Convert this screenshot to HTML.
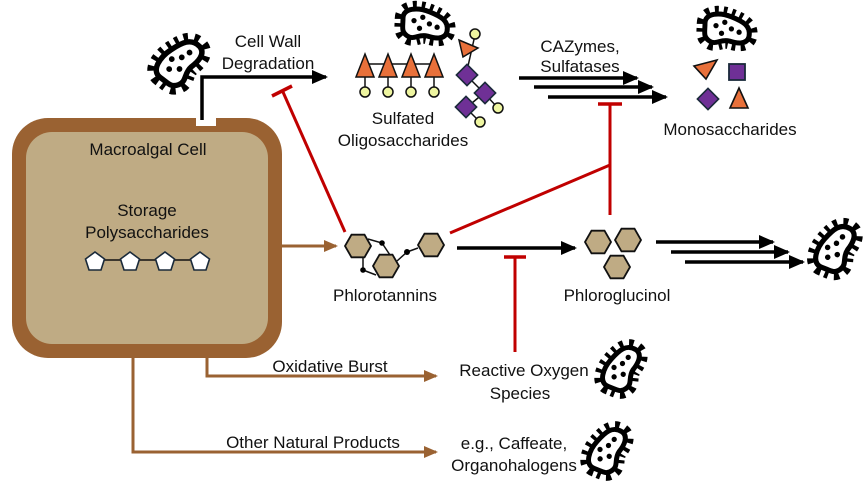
<!DOCTYPE html>
<html><head><meta charset="utf-8"><style>
body{margin:0;background:#fff}
svg{display:block}
text{font-family:"Liberation Sans",sans-serif;font-size:17px;fill:#111}
</style></head><body>
<svg width="865" height="489" viewBox="0 0 865 489" xmlns="http://www.w3.org/2000/svg">
<defs>
<marker id="abig" markerWidth="16" markerHeight="14" refX="14" refY="7" orient="auto" markerUnits="userSpaceOnUse"><path d="M0,0 L16,7 L0,14 Z" fill="#000"/></marker>
<marker id="abr" markerWidth="14" markerHeight="12" refX="12" refY="6" orient="auto" markerUnits="userSpaceOnUse"><path d="M0,0 L14,6 L0,12 Z" fill="#9a6232"/></marker>
<g id="bug">
<path d="M-20,-6 C-20,-16 -6,-16 4,-12 C14,-8 22,-4 20,6 C18,14 8,12 2,10 C-6,8 -10,14 -16,10 C-22,6 -20,2 -20,-6 Z" fill="none" stroke="#000" stroke-width="15" stroke-dasharray="3 4"/>
<path d="M-20,-6 C-20,-16 -6,-16 4,-12 C14,-8 22,-4 20,6 C18,14 8,12 2,10 C-6,8 -10,14 -16,10 C-22,6 -20,2 -20,-6 Z" fill="#fff" stroke="#000" stroke-width="4.5"/>
<circle cx="-10" cy="-4" r="2.4"/><circle cx="-2" cy="-7" r="2.4"/><circle cx="4" cy="-1" r="2.4"/><circle cx="11" cy="2" r="2.4"/><circle cx="-5" cy="3" r="2.4"/>
</g>
<polygon id="hex" points="13,0 6.5,11.3 -6.5,11.3 -13,0 -6.5,-11.3 6.5,-11.3" fill="#bfab84" stroke="#111" stroke-width="1.8"/>
<polygon id="pent" points="0,-9 9.5,-2 6,9 -6,9 -9.5,-2" fill="#fff" stroke="#1a2a3a" stroke-width="1.6"/>
<circle id="yc" r="5" fill="#eef5a0" stroke="#111" stroke-width="1.5"/>
<rect id="dia" x="-7.5" y="-7.5" width="15" height="15" fill="#6f3096" stroke="#1a2a3a" stroke-width="1.6" transform="rotate(45)"/>
</defs>

<rect x="12" y="118" width="270" height="240" rx="36" fill="#9a6232"/>
<rect x="26" y="132" width="242" height="212" rx="26" fill="#bfab84"/>
<text x="148" y="155" text-anchor="middle">Macroalgal Cell</text>
<text x="147" y="216" text-anchor="middle">Storage</text>
<text x="147" y="238" text-anchor="middle">Polysaccharides</text>
<line x1="95" y1="260" x2="200" y2="260" stroke="#111" stroke-width="1.5"/>
<use href="#pent" x="95" y="261"/><use href="#pent" x="130" y="261"/><use href="#pent" x="165" y="261"/><use href="#pent" x="200" y="261"/>
<rect x="196" y="118" width="20" height="8" fill="#fff"/>

<use href="#bug" transform="translate(180,62) rotate(-55) scale(1.2)"/>
<polyline points="202,120 202,77 326,77" fill="none" stroke="#000" stroke-width="3.5" marker-end="url(#abig)"/>
<text x="268" y="47" text-anchor="middle">Cell Wall</text>
<text x="268" y="69" text-anchor="middle">Degradation</text>
<line x1="345" y1="232" x2="283" y2="92" stroke="#c00000" stroke-width="3"/>
<line x1="272" y1="96" x2="292" y2="86" stroke="#c00000" stroke-width="3.5"/>

<use href="#bug" transform="translate(425,25) scale(1.1)"/>
<line x1="365" y1="64" x2="434" y2="64" stroke="#111" stroke-width="1.5"/>
<g stroke="#111" stroke-width="1.5">
<line x1="365" y1="70" x2="365" y2="92"/><line x1="388" y1="70" x2="388" y2="92"/><line x1="411" y1="70" x2="411" y2="92"/><line x1="434" y1="70" x2="434" y2="92"/>
</g>
<g fill="#e8703a" stroke="#111" stroke-width="1.5">
<polygon points="365,54 374,77 356,77"/><polygon points="388,54 397,77 379,77"/><polygon points="411,54 420,77 402,77"/><polygon points="434,54 443,77 425,77"/>
</g>
<use href="#yc" x="365" y="92"/><use href="#yc" x="388" y="92"/><use href="#yc" x="411" y="92"/><use href="#yc" x="434" y="92"/>
<g stroke="#111" stroke-width="1.5"><line x1="475" y1="35" x2="466" y2="75"/><line x1="466" y1="75" x2="484" y2="93"/><line x1="484" y1="93" x2="498" y2="108"/><line x1="484" y1="93" x2="466" y2="108"/><line x1="466" y1="108" x2="479" y2="121"/></g>
<polygon points="459,40 478,48 463,57" fill="#e8703a" stroke="#111" stroke-width="1.5"/>
<use href="#yc" x="475" y="34"/>
<use href="#dia" x="467" y="75"/><use href="#dia" x="485" y="93"/><use href="#dia" x="466" y="107"/>
<use href="#yc" x="498" y="108"/><use href="#yc" x="480" y="122"/>
<text x="403" y="124" text-anchor="middle">Sulfated</text>
<text x="403" y="146" text-anchor="middle">Oligosaccharides</text>

<text x="580" y="52" text-anchor="middle">CAZymes,</text>
<text x="580" y="72" text-anchor="middle">Sulfatases</text>
<g stroke="#000" stroke-width="3.5">
<line x1="519" y1="78" x2="637" y2="78" marker-end="url(#abig)"/>
<line x1="534" y1="87" x2="652" y2="87" marker-end="url(#abig)"/>
<line x1="548" y1="97" x2="666" y2="97" marker-end="url(#abig)"/>
</g>
<line x1="610" y1="215" x2="610" y2="104" stroke="#c00000" stroke-width="3"/>
<line x1="598" y1="104" x2="622" y2="104" stroke="#c00000" stroke-width="3.5"/>

<use href="#bug" transform="translate(727,30) scale(1.1)"/>
<polygon points="694,66 717,60 706,79" fill="#e8703a" stroke="#111" stroke-width="1.6"/>
<rect x="729" y="64" width="16" height="16" fill="#6f3096" stroke="#1a2a3a" stroke-width="1.8"/>
<use href="#dia" x="708" y="99"/>
<polygon points="739,88 748,108 730,108" fill="#e8703a" stroke="#111" stroke-width="1.6"/>
<text x="730" y="135" text-anchor="middle">Monosaccharides</text>

<line x1="282" y1="246" x2="336" y2="246" stroke="#9a6232" stroke-width="3" marker-end="url(#abr)"/>
<g stroke="#111" stroke-width="1.5">
<line x1="368" y1="239" x2="382" y2="243"/><line x1="382" y1="243" x2="390" y2="255"/><line x1="363" y1="257" x2="363" y2="270"/><line x1="363" y1="270" x2="376" y2="275"/><line x1="397" y1="261" x2="407" y2="252"/><line x1="407" y1="252" x2="418" y2="248"/>
</g>
<use href="#hex" x="358" y="246"/><use href="#hex" x="386" y="266"/><use href="#hex" x="431" y="245"/>
<circle cx="382" cy="243" r="2.8"/><circle cx="363" cy="270" r="2.8"/><circle cx="407" cy="252" r="3"/>
<text x="385" y="301" text-anchor="middle">Phlorotannins</text>
<line x1="450" y1="233" x2="610" y2="165" stroke="#c00000" stroke-width="3"/>
<line x1="457" y1="248" x2="575" y2="248" stroke="#000" stroke-width="3.5" marker-end="url(#abig)"/>
<line x1="515" y1="352" x2="515" y2="257" stroke="#c00000" stroke-width="3"/>
<line x1="504" y1="257" x2="526" y2="257" stroke="#c00000" stroke-width="3.5"/>

<use href="#hex" x="598" y="242"/><use href="#hex" x="628" y="240"/><use href="#hex" x="617" y="267"/>
<text x="617" y="301" text-anchor="middle">Phloroglucinol</text>
<g stroke="#000" stroke-width="3.5">
<line x1="656" y1="242" x2="773" y2="242" marker-end="url(#abig)"/>
<line x1="671" y1="252" x2="788" y2="252" marker-end="url(#abig)"/>
<line x1="685" y1="262" x2="803" y2="262" marker-end="url(#abig)"/>
</g>
<use href="#bug" transform="translate(836,248) rotate(-70) scale(1.15)"/>

<polyline points="207,358 207,376 436,376" fill="none" stroke="#9a6232" stroke-width="3" marker-end="url(#abr)"/>
<text x="330" y="372" text-anchor="middle">Oxidative Burst</text>
<text x="524" y="376" text-anchor="middle">Reactive Oxygen</text>
<text x="520" y="399" text-anchor="middle">Species</text>
<use href="#bug" transform="translate(622,368) rotate(-70) scale(1.1)"/>

<polyline points="133,358 133,452 436,452" fill="none" stroke="#9a6232" stroke-width="3" marker-end="url(#abr)"/>
<text x="313" y="448" text-anchor="middle">Other Natural Products</text>
<text x="514" y="449" text-anchor="middle">e.g., Caffeate,</text>
<text x="514" y="471" text-anchor="middle">Organohalogens</text>
<use href="#bug" transform="translate(608,450) rotate(-70) scale(1.1)"/>
</svg>
</body></html>
